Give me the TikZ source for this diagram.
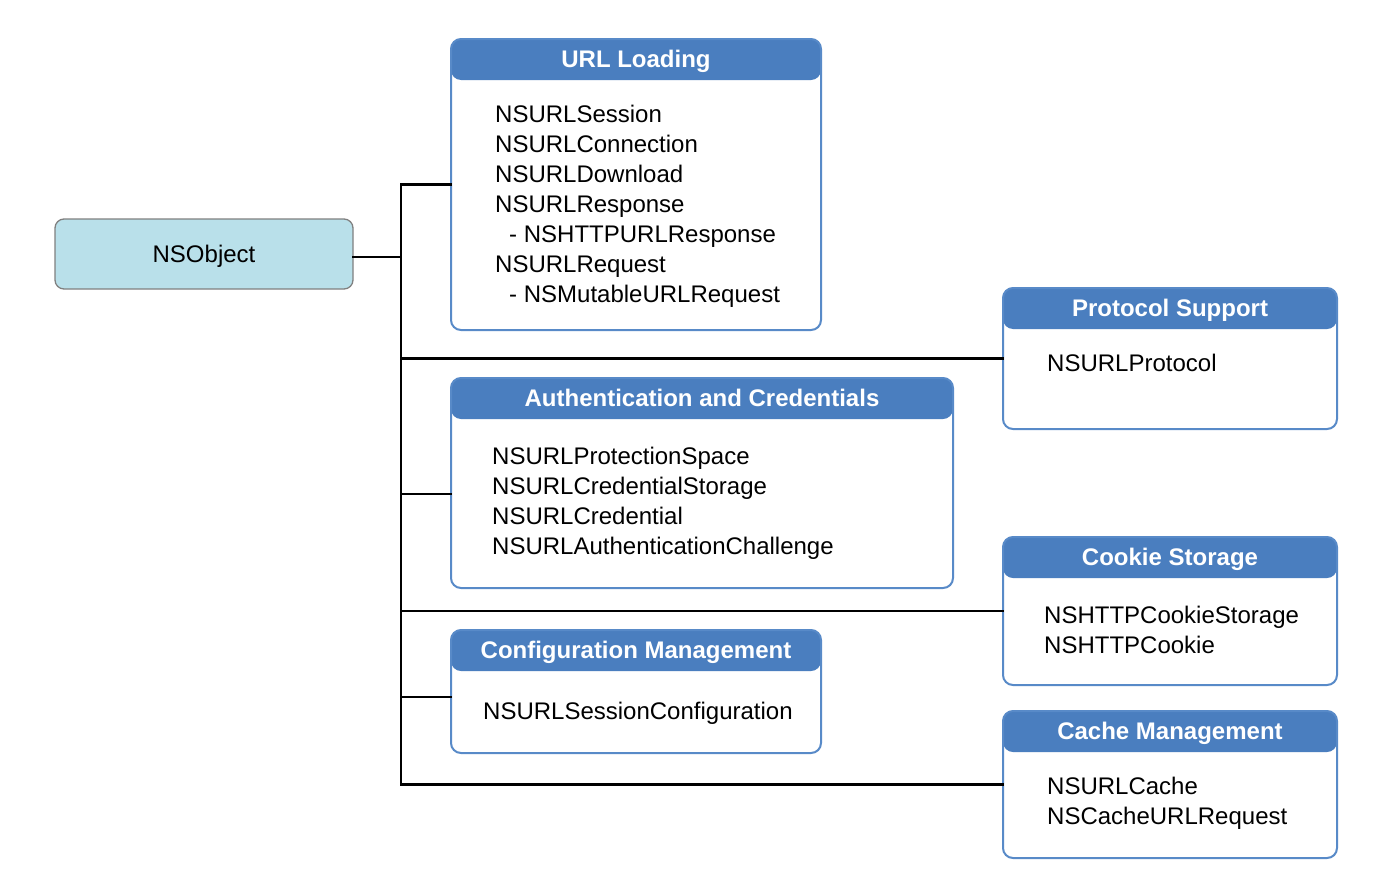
\documentclass[tikz,border=0pt]{standalone}
\usepackage{fontspec}
\setmainfont{Liberation Sans}

\definecolor{hdrblue}{RGB}{74,126,191}
\definecolor{edgeblue}{RGB}{88,138,200}
\definecolor{rootfill}{RGB}{185,224,234}
\definecolor{rootedge}{RGB}{128,128,128}

\tikzset{
  groupframe/.style={draw=edgeblue, line width=2pt, rounded corners=10pt, fill=white,
    inner sep=0pt, outer sep=0pt,
    path picture={\fill[hdrblue] (path picture bounding box.north west)
      rectangle ([yshift=-41pt]path picture bounding box.north east);}},
  grouptitle/.style={anchor=base, inner sep=0pt, text=white,
    font=\bfseries\fontsize{24}{28}\selectfont},
  groupbody/.style={anchor=north west, inner sep=0pt, align=left,
    font=\fontsize{24}{30}\selectfont},
  rootbox/.style={draw=rootedge, line width=1.3pt, fill=rootfill, rounded corners=9pt,
    minimum width=298pt, minimum height=70pt, inner sep=0pt, outer sep=0pt,
    text height=17.2pt, text depth=0pt, font=\fontsize{24}{28}\selectfont},
  conn/.style={draw=black, line width=2.4pt, line cap=rect},
}

% #1 name, #2 left, #3 top, #4 right, #5 bottom, #6 title
\newcommand\groupbox[6]{%
  \node[groupframe, minimum width={#4-#2}, minimum height={#5-#3}]
    (#1) at ({(#2+#4)/2},{(#3+#5)/2}) {};
  \node[grouptitle] (#1-title) at ([yshift=-28pt]#1.north) {#6};
}

\begin{document}
\begin{tikzpicture}[x=1pt, y=-1pt]
  \useasboundingbox[fill=white] (0,0) rectangle (1378,886);

  % root class
  \node[rootbox] (nso) at (204,254) {NSObject};

  % groups of classes
  \groupbox{url}{451}{39}{821}{330}{URL Loading}
  \groupbox{proto}{1003}{288}{1337}{429}{Protocol Support}
  \groupbox{auth}{451}{378}{953}{588}{Authentication and Credentials}
  \groupbox{cookie}{1003}{537}{1337}{685}{Cookie Storage}
  \groupbox{config}{451}{630}{821}{753}{Configuration Management}
  \groupbox{cache}{1003}{711}{1337}{858}{Cache Management}

  % class lists
  \node[groupbody] (url-body) at (495,105) {NSURLSession\\NSURLConnection\\NSURLDownload\\NSURLResponse\\
    \hspace*{14pt}- NSHTTPURLResponse\\NSURLRequest\\\hspace*{14pt}- NSMutableURLRequest};
  \node[groupbody] (proto-body) at (1047,354) {NSURLProtocol};
  \node[groupbody] (auth-body) at (492,447) {NSURLProtectionSpace\\NSURLCredentialStorage\\
    NSURLCredential\\NSURLAuthenticationChallenge};
  \node[groupbody] (cookie-body) at (1044,606) {NSHTTPCookieStorage\\NSHTTPCookie};
  \node[groupbody] (config-body) at (483,702) {NSURLSessionConfiguration};
  \node[groupbody] (cache-body) at (1047,777) {NSURLCache\\NSCacheURLRequest};

  % tree connectors
  \coordinate (bus) at (401,0);
  \draw[conn] (url.west) -- (url.west -| bus) -- (cache.west -| bus) -- (cache.west);
  \draw[conn] ([yshift=-3pt]nso.east) -- ([yshift=-3pt]nso.east -| bus);
  \draw[conn] (proto.west) -- (proto.west -| bus);
  \draw[conn] ([yshift=-11pt]auth.west) -- ([yshift=-11pt]auth.west -| bus);
  \draw[conn] (cookie.west) -- (cookie.west -| bus);
  \draw[conn] ([yshift=-5.5pt]config.west) -- ([yshift=-5.5pt]config.west -| bus);
\end{tikzpicture}
\end{document}
